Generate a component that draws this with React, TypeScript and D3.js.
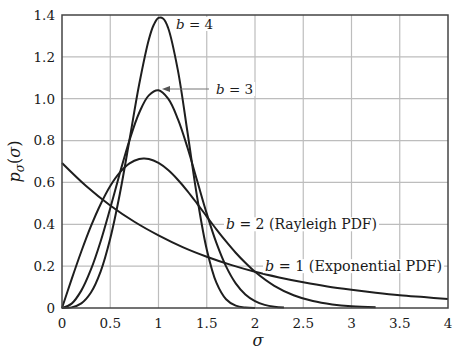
import React, { useEffect, useRef } from "react";
import * as d3 from "d3";

// b = 1 (Exponential PDF)
const sigmaB1 = [0, 0.25, 0.5, 0.75, 1, 1.25, 1.5, 1.75, 2, 2.25, 2.5, 2.75, 3, 3.25, 3.5, 3.75, 4];
const pdfB1 = [0.693, 0.583, 0.49, 0.412, 0.347, 0.291, 0.245, 0.206, 0.173, 0.146, 0.123, 0.103, 0.087, 0.073, 0.061, 0.052, 0.043];

// b = 2 (Rayleigh PDF)
const sigmaB2 = [0, 0.1, 0.2, 0.3, 0.4, 0.5, 0.6, 0.7, 0.8, 0.85, 0.9, 1.0, 1.1, 1.2, 1.3, 1.4, 1.5, 1.6, 1.7, 1.8, 1.9, 2.0, 2.2, 2.4, 2.6, 2.8, 3.0, 3.25];
const pdfB2 = [0, 0.138, 0.27, 0.391, 0.496, 0.583, 0.648, 0.691, 0.712, 0.714, 0.712, 0.693, 0.659, 0.613, 0.559, 0.499, 0.437, 0.376, 0.318, 0.264, 0.216, 0.173, 0.106, 0.061, 0.033, 0.017, 0.008, 0.003];

// b = 3
const sigmaB3 = [0, 0.1, 0.2, 0.3, 0.4, 0.5, 0.6, 0.7, 0.8, 0.9, 1.0, 1.1, 1.2, 1.3, 1.4, 1.5, 1.6, 1.7, 1.8, 1.9, 2.0, 2.1, 2.2, 2.3];
const pdfB3 = [0, 0.021, 0.083, 0.184, 0.318, 0.477, 0.645, 0.803, 0.933, 1.016, 1.04, 1.0, 0.904, 0.767, 0.609, 0.451, 0.311, 0.199, 0.118, 0.065, 0.033, 0.015, 0.006, 0.0025];

// b = 4
const sigmaB4 = [0, 0.1, 0.2, 0.3, 0.4, 0.5, 0.6, 0.7, 0.8, 0.9, 0.95, 1.0, 1.05, 1.1, 1.2, 1.3, 1.4, 1.5, 1.6, 1.7, 1.8, 1.9, 2.0];
const pdfB4 = [0, 0.003, 0.022, 0.074, 0.174, 0.332, 0.547, 0.805, 1.069, 1.283, 1.352, 1.386, 1.382, 1.338, 1.138, 0.841, 0.531, 0.28, 0.121, 0.042, 0.011, 0.002, 0.0003];

const xTicks = [0, 0.5, 1, 1.5, 2, 2.5, 3, 3.5, 4];
const xTickLabels = ["0", "0.5", "1", "1.5", "2", "2.5", "3", "3.5", "4"];
const yTicks = [0, 0.2, 0.4, 0.6, 0.8, 1.0, 1.2, 1.4];
const yTickLabels = ["0", "0.2", "0.4", "0.6", "0.8", "1.0", "1.2", "1.4"];

const W = 452;
const H = 349;
const FONT = "'DejaVu Serif', serif";

export default function App() {
  const ref = useRef<SVGSVGElement | null>(null);

  useEffect(() => {
    const svg = d3.select(ref.current);
    svg.selectAll("*").remove();

    const x = d3.scaleLinear().domain([0, 4]).range([62, 448]);
    const y = d3.scaleLinear().domain([0, 1.4]).range([308, 15]);

    svg.append("rect").attr("width", W).attr("height", H).attr("fill", "#fff");

    const grid = svg.append("g").attr("stroke", "#bdbdbd").attr("stroke-width", 1.2);
    xTicks.slice(1, -1).forEach((t) => {
      grid.append("line").attr("x1", x(t)).attr("x2", x(t)).attr("y1", y(0)).attr("y2", y(1.4));
    });
    yTicks.slice(1, -1).forEach((t) => {
      grid.append("line").attr("x1", x(0)).attr("x2", x(4)).attr("y1", y(t)).attr("y2", y(t));
    });

    // tick labels
    const tl = svg.append("g").attr("font-family", FONT).attr("font-size", 13.5).attr("fill", "#1a1a1a");
    xTicks.forEach((t, i) => {
      tl.append("text").attr("x", x(t)).attr("y", 328).attr("text-anchor", "middle").text(xTickLabels[i]);
    });
    yTicks.forEach((t, i) => {
      tl.append("text").attr("x", 55).attr("y", y(t) + 4.8).attr("text-anchor", "end").text(yTickLabels[i]);
    });

    // curves
    const line = d3
      .line<[number, number]>()
      .x((d) => x(d[0]))
      .y((d) => y(d[1]))
      .curve(d3.curveCatmullRom.alpha(0.5));
    const series: [number[], number[]][] = [
      [sigmaB1, pdfB1],
      [sigmaB2, pdfB2],
      [sigmaB3, pdfB3],
      [sigmaB4, pdfB4],
    ];
    const curves = svg.append("g");
    series.forEach(([xs, ys]) => {
      const pts = xs.map((v, i) => [v, ys[i]] as [number, number]);
      curves
        .append("path")
        .attr("d", line(pts))
        .attr("fill", "none")
        .attr("stroke", "#1e1e1e")
        .attr("stroke-width", 2);
    });

    // frame
    svg
      .append("rect")
      .attr("x", x(0))
      .attr("y", y(1.4))
      .attr("width", x(4) - x(0))
      .attr("height", y(0) - y(1.4))
      .attr("fill", "none")
      .attr("stroke", "#444")
      .attr("stroke-width", 1.5);

    // labels with white background
    const addLabel = (lx: number, ly: number, size: number, parts: [string, boolean][]) => {
      const g = svg.append("g");
      const bg = g.append("rect").attr("fill", "#fff");
      const t = g
        .append("text")
        .attr("x", lx)
        .attr("y", ly)
        .attr("font-family", FONT)
        .attr("font-size", size)
        .attr("fill", "#1a1a1a");
      parts.forEach(([s, it]) => {
        t.append("tspan").attr("font-style", it ? "italic" : "normal").text(s);
      });
      const bb = (t.node() as SVGTextElement).getBBox();
      bg.attr("x", bb.x - 2).attr("y", bb.y + 1).attr("width", bb.width + 4).attr("height", bb.height - 2);
    };

    addLabel(176, 29, 13.5, [["b", true], [" = 4", false]]);
    addLabel(216, 94, 13.5, [["b", true], [" = 3", false]]);
    addLabel(226, y(0.4) + 5, 14, [["b", true], [" = 2 (Rayleigh PDF)", false]]);
    addLabel(265, y(0.2) + 5, 14.3, [["b", true], [" = 1 (Exponential PDF)", false]]);

    // arrow for b = 3
    svg
      .append("line")
      .attr("x1", 209)
      .attr("x2", 168)
      .attr("y1", 89)
      .attr("y2", 89)
      .attr("stroke", "#777")
      .attr("stroke-width", 1.2);
    svg
      .append("path")
      .attr("d", "M162,89 L170,86 L170,92 Z")
      .attr("fill", "#555");

    // axis titles
    svg
      .append("text")
      .attr("x", 258)
      .attr("y", 346)
      .attr("text-anchor", "middle")
      .attr("font-family", FONT)
      .attr("font-size", 16)
      .attr("font-style", "italic")
      .attr("fill", "#1a1a1a")
      .text("σ");

    const yl = svg
      .append("text")
      .attr("transform", `translate(20, ${(y(0) + y(1.4)) / 2}) rotate(-90)`)
      .attr("text-anchor", "middle")
      .attr("font-family", FONT)
      .attr("font-size", 16)
      .attr("fill", "#1a1a1a");
    yl.append("tspan").attr("font-style", "italic").text("p");
    yl.append("tspan").attr("font-style", "italic").attr("font-size", 12).attr("dy", 4).text("σ");
    yl.append("tspan").attr("dy", -4).text("(");
    yl.append("tspan").attr("font-style", "italic").text("σ");
    yl.append("tspan").text(")");
  }, []);

  return (
    <svg
      ref={ref}
      width={W}
      height={H}
      style={{ position: "absolute", left: 0, top: 0, display: "block" }}
    />
  );
}
